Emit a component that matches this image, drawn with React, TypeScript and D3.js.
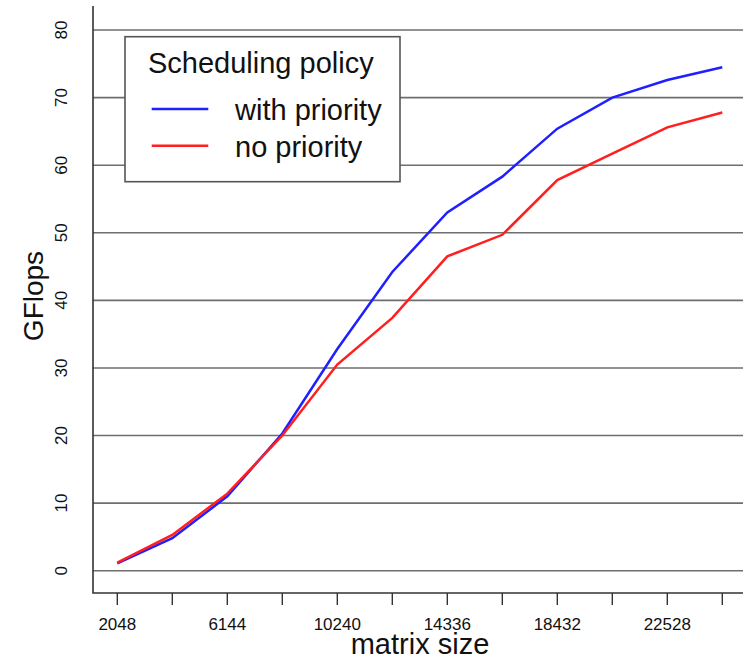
import React, { useRef, useEffect } from 'react';
import * as d3 from 'd3';

// matrix sizes (x positions of the points)
const matrixSizes = [2048, 4096, 6144, 8192, 10240, 12288, 14336, 16384, 18432, 20480, 22528, 24576];
const withPriority = [1.1, 4.8, 11.0, 20.3, 32.8, 44.2, 53.0, 58.3, 65.4, 70.0, 72.6, 74.5];
const noPriority = [1.2, 5.3, 11.4, 20.0, 30.5, 37.4, 46.5, 49.7, 57.8, 61.7, 65.6, 67.8];
const xTickLabels = [2048, 6144, 10240, 14336, 18432, 22528];
const yTicks = [0, 10, 20, 30, 40, 50, 60, 70, 80];

const WIDTH = 743;
const HEIGHT = 660;
const FONT = '"Liberation Sans", Arial, Helvetica, sans-serif';

const App = () => {
  const svgRef = useRef<SVGSVGElement>(null);

  useEffect(() => {
    const svg = d3.select(svgRef.current);
    svg.selectAll('*').remove();

    const x = d3.scaleLinear().domain([2048, 24576]).range([117.3, 722.3]);
    const y = d3.scaleLinear().domain([0, 80]).range([570.7, 30]);

    const axisLeft = 93;
    const axisBottom = 593;

    // horizontal grid lines
    yTicks.forEach(t => {
      svg.append('line')
        .attr('x1', axisLeft).attr('x2', WIDTH)
        .attr('y1', y(t)).attr('y2', y(t))
        .attr('stroke', '#6e6e6e')
        .attr('stroke-width', 1.6);
    });

    // L-shaped box
    svg.append('path')
      .attr('d', `M${axisLeft},6 L${axisLeft},${axisBottom} L${WIDTH},${axisBottom}`)
      .attr('fill', 'none')
      .attr('stroke', '#333')
      .attr('stroke-width', 1.6);

    // x ticks
    matrixSizes.forEach(m => {
      svg.append('line')
        .attr('x1', x(m)).attr('x2', x(m))
        .attr('y1', axisBottom).attr('y2', axisBottom + 12)
        .attr('stroke', '#333')
        .attr('stroke-width', 1.4);
    });
    xTickLabels.forEach(m => {
      svg.append('text')
        .attr('x', x(m)).attr('y', 630)
        .attr('text-anchor', 'middle')
        .style('font-family', FONT)
        .style('font-size', '17px')
        .attr('fill', '#111')
        .text(m);
    });

    // y tick labels (rotated)
    yTicks.forEach(t => {
      svg.append('text')
        .attr('transform', `translate(67, ${y(t)}) rotate(-90)`)
        .attr('text-anchor', 'middle')
        .style('font-family', FONT)
        .style('font-size', '17px')
        .attr('fill', '#111')
        .text(t);
    });

    // axis titles
    svg.append('text')
      .attr('x', 420).attr('y', 654)
      .attr('text-anchor', 'middle')
      .style('font-family', FONT)
      .style('font-size', '29px')
      .attr('fill', '#111')
      .text('matrix size');

    svg.append('text')
      .attr('transform', 'translate(43, 296) rotate(-90)')
      .attr('text-anchor', 'middle')
      .style('font-family', FONT)
      .style('font-size', '28px')
      .attr('fill', '#111')
      .text('GFlops');

    // series
    const line = d3.line<number>()
      .x((d, i) => x(matrixSizes[i]))
      .y(d => y(d));

    svg.append('path')
      .datum(withPriority)
      .attr('d', line)
      .attr('fill', 'none')
      .attr('stroke', '#1f1fff')
      .attr('stroke-width', 2.5);

    svg.append('path')
      .datum(noPriority)
      .attr('d', line)
      .attr('fill', 'none')
      .attr('stroke', '#ff1f1f')
      .attr('stroke-width', 2.5);

    // legend
    const legend = svg.append('g');
    legend.append('rect')
      .attr('x', 125).attr('y', 36.7)
      .attr('width', 275).attr('height', 145)
      .attr('fill', '#fff')
      .attr('stroke', '#555')
      .attr('stroke-width', 1.6);

    legend.append('text')
      .attr('x', 148).attr('y', 73)
      .style('font-family', FONT)
      .style('font-size', '29px')
      .attr('fill', '#111')
      .text('Scheduling policy');

    const items = [
      { label: 'with priority', color: '#1f1fff', ly: 109, ty: 120 },
      { label: 'no priority', color: '#ff1f1f', ly: 145.7, ty: 156.7 }
    ];
    items.forEach(it => {
      legend.append('line')
        .attr('x1', 151.7).attr('x2', 208.3)
        .attr('y1', it.ly).attr('y2', it.ly)
        .attr('stroke', it.color)
        .attr('stroke-width', 2.5);
      legend.append('text')
        .attr('x', 235).attr('y', it.ty)
        .style('font-family', FONT)
        .style('font-size', '29px')
        .attr('fill', '#111')
        .text(it.label);
    });
  }, []);

  return (
    <div style={{ position: 'absolute', left: 0, top: 0, width: WIDTH, height: HEIGHT, background: '#fff' }}>
      <svg ref={svgRef} width={WIDTH} height={HEIGHT} style={{ display: 'block' }} />
    </div>
  );
};

export default App;
